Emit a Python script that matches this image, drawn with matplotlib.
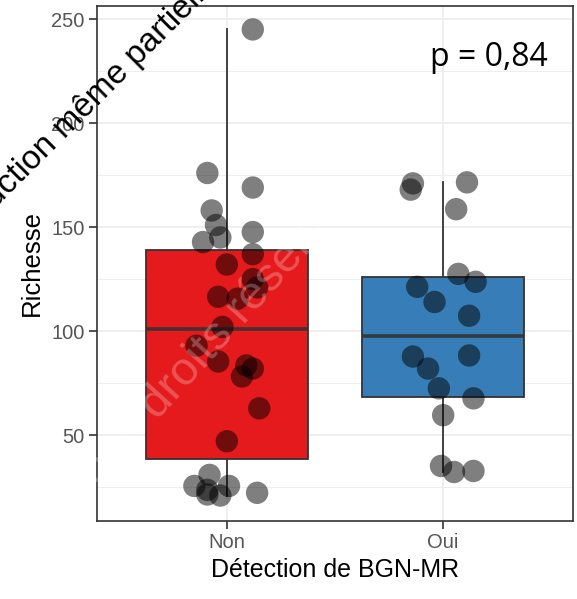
import matplotlib
matplotlib.use("Agg")
import matplotlib.pyplot as plt
from matplotlib.ticker import MultipleLocator

# Groups
categories = ["Non", "Oui"]
fill_colors = ["#E41A1C", "#377EB8"]

# Richness per sample
non_richesse = [245, 176, 169, 158, 151, 147.6, 145, 142.8, 137, 132, 125, 121,
                116.5, 115.6, 102, 93, 85.4, 83.5, 82, 78.2, 62.9, 47.1,
                30.9, 25.6, 25.6, 23.7, 21, 21.5, 22.3]
oui_richesse = [171, 168, 171.5, 158.6, 127.5, 123.7, 121.3, 114, 107.4,
                87.8, 88.3, 82, 72.5, 67.7, 59.6, 35.2, 32.3, 32.8]

# Horizontal jitter of each sample (category units)
non_jitter = [0.12, -0.09, 0.12, -0.07, -0.05, 0.12, -0.03, -0.11, 0.12, 0.00,
              0.12, 0.14, -0.04, 0.05, -0.02, -0.14, -0.04, 0.09, 0.12, 0.07,
              0.15, 0.00, -0.08, -0.15, 0.01, -0.09, -0.03, -0.09, 0.14]
oui_jitter = [-0.14, -0.15, 0.11, 0.06, 0.07, 0.15, -0.12, -0.04, 0.12,
              -0.14, 0.12, -0.07, -0.02, 0.14, 0.00, -0.01, 0.05, 0.14]

# Box summaries: lower whisker, Q1, median, Q3, upper whisker
box_whislo = [21, 32.3]
box_q1 = [38.5, 68.2]
box_med = [101, 97.5]
box_q3 = [139.2, 125.8]
box_whishi = [245, 171.5]

p_label = "p = 0,84"

fig = plt.figure(figsize=(5.77, 5.99), dpi=100)
ax = fig.add_axes([97 / 577, 78 / 599, 476 / 577, 515 / 599])

edge = "#333333"
stats = []
for i, cat in enumerate(categories):
    stats.append(dict(label=cat, whislo=box_whislo[i], q1=box_q1[i],
                      med=box_med[i], q3=box_q3[i], whishi=box_whishi[i]))

bp = ax.bxp(stats, positions=[1, 2], widths=0.75, patch_artist=True,
            showfliers=False, showcaps=False,
            boxprops=dict(edgecolor=edge, linewidth=1.3),
            whiskerprops=dict(color=edge, linewidth=1.3),
            medianprops=dict(color=edge, linewidth=2.6, alpha=0.9))
for patch, col in zip(bp["boxes"], fill_colors):
    patch.set_facecolor(col)
    patch.set_zorder(2)
for w in bp["whiskers"]:
    w.set_zorder(1.5)
for m in bp["medians"]:
    m.set_zorder(2.5)

groups = [(non_richesse, non_jitter), (oui_richesse, oui_jitter)]
for pos, (vals, jit) in zip([1, 2], groups):
    xs = [pos + j for j in jit]
    ax.scatter(xs, vals, s=260, c="black", alpha=0.5, edgecolors="none",
               zorder=3)

# Scales
ax.set_xlim(0.4, 2.6)
ax.set_ylim(8.75, 256.25)
ax.set_xticks([1, 2])
ax.set_xticklabels(categories)
ax.yaxis.set_major_locator(MultipleLocator(50))
ax.yaxis.set_minor_locator(MultipleLocator(25))
ax.set_yticks([50, 100, 150, 200, 250])

# Theme
ax.set_axisbelow(True)
ax.grid(which="major", color="#EBEBEB", linewidth=1.1)
ax.grid(which="minor", axis="y", color="#EBEBEB", linewidth=0.6)
for s in ax.spines.values():
    s.set_color(edge)
    s.set_linewidth(1.2)
ax.tick_params(which="major", length=6, width=1.2, color=edge,
               labelcolor="#555555", labelsize=14.5, pad=3)
ax.tick_params(which="minor", length=0)
for lab in ax.get_xticklabels() + ax.get_yticklabels():
    lab.set_family("Liberation Sans")

ax.set_xlabel("Détection de BGN-MR", fontsize=18, family="Liberation Sans",
              labelpad=4)
ax.set_ylabel("Richesse", fontsize=18.5, family="Liberation Sans", labelpad=5)

ax.text(548 / 577, (599 - 66) / 599, p_label, transform=fig.transFigure,
        ha="right", va="baseline", fontsize=23, family="Open Sans",
        color="black")

# Copyright notices
fig.text(-82 / 577, (599 - 286) / 599, "Reproduction même partielle",
         rotation=45, rotation_mode="anchor", ha="left", va="baseline",
         fontsize=24, family="Liberation Sans", color="black", zorder=10)
fig.text(215 / 577, (599 - 340) / 599, "Tous droits réservés",
         rotation=48, rotation_mode="anchor", ha="center", va="center",
         fontsize=34, family="Liberation Sans", color="white", alpha=0.25,
         zorder=10)

fig.savefig("out.png", dpi=100)
